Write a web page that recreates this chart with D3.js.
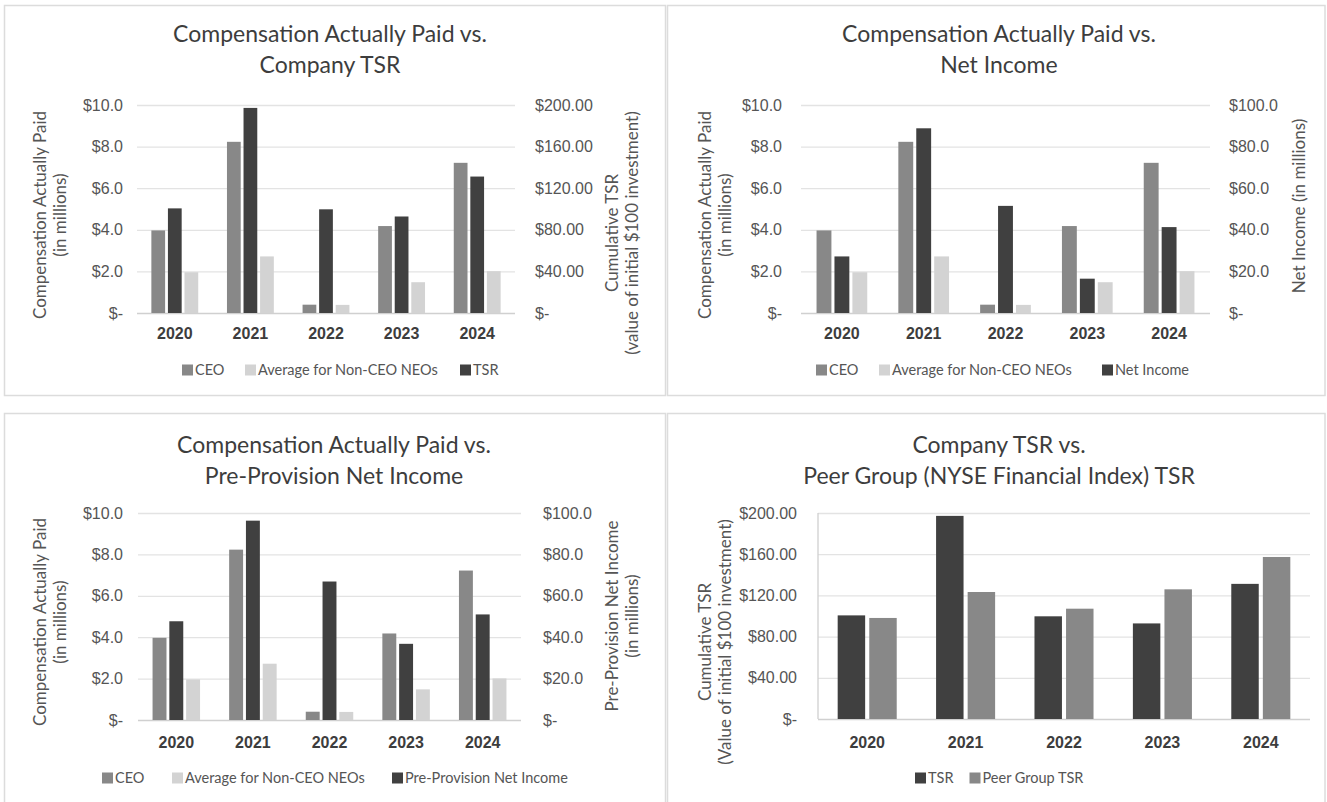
<!DOCTYPE html>
<html>
<head>
<meta charset="utf-8">
<script src="https://cdn.jsdelivr.net/npm/d3@7"></script>
<style>
  body { margin: 0; background: #fff; }
  svg { display: block; font-family: Lato, "Liberation Sans", sans-serif; }
</style>
</head>
<body>
<div id="app"></div>
<script>
// ---- data ----
const years      = ["2020", "2021", "2022", "2023", "2024"];
const ceoCap     = [3.97, 8.23, 0.40, 4.18, 7.22];     // $ millions
const neoCap     = [1.96, 2.72, 0.39, 1.48, 2.01];     // $ millions
const tsr        = [100.6, 197.2, 99.7, 92.8, 131.2];  // value of $100
const peerTsr    = [98.1, 123.3, 107.1, 125.9, 157.3];
const netIncome  = [27.2, 88.8, 51.5, 16.5, 41.3];     // $ millions
const ppni       = [47.7, 96.3, 66.9, 36.8, 51.0];     // $ millions
const capTicks   = [0, 2, 4, 6, 8, 10];
const tsrTicks   = [0, 40, 80, 120, 160, 200];
const incTicks   = [0, 20, 40, 60, 80, 100];

const C_CEO = "#888888", C_NEO = "#d3d3d3", C_DARK = "#404040";

const fmtCap = (d) => d === 0 ? "$-" : "$" + d.toFixed(1);
const fmtTsr = (d) => d === 0 ? "$-" : "$" + d.toFixed(2);

const W = 1327, H = 802;
const svg = d3.select("#app").append("svg").attr("width", W).attr("height", H);

const panels = [
  { box: [4.5, 5.5, 661, 390], title: ["Compensation Actually Paid vs.", "Company TSR"], tx: 330, ty: 34,
    px: [137, 515], py: [105, 313], lpad: 14, rpad: 20,
    left: { ticks: capTicks, fmt: fmtCap, max: 10, title: ["Compensation Actually Paid", "(in millions)"], x: 40, cy: 215 },
    right: { ticks: tsrTicks, fmt: fmtTsr, max: 200, title: ["Cumulative TSR", "(value of initial $100 investment)"], x: 612, cy: 233 },
    series: [
      { name: "CEO", vals: ceoCap, color: C_CEO, axis: "left" },
      { name: "TSR", vals: tsr, color: C_DARK, axis: "right" },
      { name: "Average for Non-CEO NEOs", vals: neoCap, color: C_NEO, axis: "left" }
    ],
    legend: [["CEO", C_CEO, 182], ["Average for Non-CEO NEOs", C_NEO, 245], ["TSR", C_DARK, 460]], ly: 370, yy: 333,
    group: 0.62 },
  { box: [667.5, 5.5, 657.5, 390], title: ["Compensation Actually Paid vs.", "Net Income"], tx: 999, ty: 34,
    px: [801, 1210], py: [105, 313], lpad: 19, rpad: 19,
    left: { ticks: capTicks, fmt: fmtCap, max: 10, title: ["Compensation Actually Paid", "(in millions)"], x: 705, cy: 215 },
    right: { ticks: incTicks, fmt: fmtCap, max: 100, title: ["Net Income (in millions)"], x: 1299, cy: 206 },
    series: [
      { name: "CEO", vals: ceoCap, color: C_CEO, axis: "left" },
      { name: "Net Income", vals: netIncome, color: C_DARK, axis: "right" },
      { name: "Average for Non-CEO NEOs", vals: neoCap, color: C_NEO, axis: "left" }
    ],
    legend: [["CEO", C_CEO, 816], ["Average for Non-CEO NEOs", C_NEO, 879], ["Net Income", C_DARK, 1102]], ly: 370, yy: 333,
    group: 0.62 },
  { box: [4.5, 413.5, 661, 400], title: ["Compensation Actually Paid vs.", "Pre-Provision Net Income"], tx: 334, ty: 445,
    px: [138, 521], py: [513, 720], lpad: 15, rpad: 22,
    left: { ticks: capTicks, fmt: fmtCap, max: 10, title: ["Compensation Actually Paid", "(in millions)"], x: 40, cy: 622 },
    right: { ticks: incTicks, fmt: fmtCap, max: 100, title: ["Pre-Provision Net Income", "(in millions)"], x: 612, cy: 616 },
    series: [
      { name: "CEO", vals: ceoCap, color: C_CEO, axis: "left" },
      { name: "Pre-Provision Net Income", vals: ppni, color: C_DARK, axis: "right" },
      { name: "Average for Non-CEO NEOs", vals: neoCap, color: C_NEO, axis: "left" }
    ],
    legend: [["CEO", C_CEO, 102], ["Average for Non-CEO NEOs", C_NEO, 172], ["Pre-Provision Net Income", C_DARK, 392]], ly: 778, yy: 742,
    group: 0.62 },
  { box: [667.5, 413.5, 657.5, 400], title: ["Company TSR vs.", "Peer Group (NYSE Financial Index) TSR"], tx: 999, ty: 445,
    px: [818, 1310], py: [513, 719], lpad: 21, rpad: 0, axisLine: true,
    left: { ticks: tsrTicks, fmt: fmtTsr, max: 200, title: ["Cumulative TSR", "(Value of initial $100 investment)"], x: 705, cy: 642 },
    right: null,
    series: [
      { name: "TSR", vals: tsr, color: C_DARK, axis: "left" },
      { name: "Peer Group TSR", vals: peerTsr, color: C_CEO, axis: "left" }
    ],
    legend: [["TSR", C_DARK, 915], ["Peer Group TSR", C_CEO, 969.5]], ly: 778, yy: 742,
    group: 0.60 }
];

panels.forEach(drawPanel);

function drawPanel(p) {
  const g = svg.append("g");

  g.append("rect")
    .attr("x", p.box[0]).attr("y", p.box[1])
    .attr("width", p.box[2]).attr("height", p.box[3])
    .attr("fill", "#fff").attr("stroke", "#dcdcdc").attr("stroke-width", 1.5);

  // title, two lines
  g.selectAll(".ttl").data(p.title).enter().append("text")
    .attr("x", p.tx).attr("y", (d, i) => p.ty + i * 31)
    .attr("dy", "0.35em")
    .attr("text-anchor", "middle")
    .style("font-size", "23px").style("fill", "#3d3d3d")
    .text((d) => d);

  const yL = d3.scaleLinear().domain([0, p.left.max]).range([p.py[1], p.py[0]]);
  const yR = p.right ? d3.scaleLinear().domain([0, p.right.max]).range([p.py[1], p.py[0]]) : null;

  const x0 = d3.scaleBand().domain(years).range(p.px)
    .paddingInner(1 - p.group).paddingOuter((1 - p.group) / 2);
  const x1 = d3.scaleBand().domain(p.series.map((s) => s.name))
    .range([0, x0.bandwidth()]).paddingInner(p.series.length > 2 ? 0.17 : 0.13);

  // gridlines + left ticks
  const gl = g.append("g").attr("transform", "translate(" + p.px[0] + ",0)")
    .call(d3.axisLeft(yL).tickValues(p.left.ticks).tickFormat(p.left.fmt)
      .tickSize(-(p.px[1] - p.px[0])).tickPadding(p.lpad));
  gl.select(".domain").remove();
  gl.selectAll(".tick line").attr("stroke", (d) => d === 0 ? "#d0d0d0" : "#e3e3e3").attr("stroke-width", 1.3);
  gl.selectAll(".tick text").style("font-size", "16px").style("fill", "#555");

  if (p.axisLine) {
    g.append("line")
      .attr("x1", p.px[0]).attr("x2", p.px[0])
      .attr("y1", yL(p.left.max)).attr("y2", yL(0))
      .attr("stroke", "#d0d0d0").attr("stroke-width", 1.3);
  }

  if (yR) {
    const gr = g.append("g").attr("transform", "translate(" + p.px[1] + ",0)")
      .call(d3.axisRight(yR).tickValues(p.right.ticks).tickFormat(p.right.fmt)
        .tickSize(0).tickPadding(p.rpad));
    gr.select(".domain").remove();
    gr.selectAll(".tick text").style("font-size", "16px").style("fill", "#555");
  }

  // year labels
  const gx = g.append("g").attr("transform", "translate(0," + p.py[1] + ")")
    .call(d3.axisBottom(x0).tickSize(0).tickPadding(0));
  gx.select(".domain").remove();
  gx.selectAll(".tick text")
    .attr("y", p.yy - p.py[1]).attr("dy", "0.35em")
    .style("font-size", "16px").style("font-weight", "bold").style("fill", "#3d3d3d");

  // bars
  p.series.forEach((s) => {
    const sc = s.axis === "right" ? yR : yL;
    g.append("g").selectAll("rect")
      .data(years.map((yr, i) => ({ yr: yr, v: s.vals[i] })))
      .enter().append("rect")
        .attr("x", (d) => x0(d.yr) + x1(s.name))
        .attr("width", x1.bandwidth())
        .attr("y", (d) => sc(d.v))
        .attr("height", (d) => sc(0) - sc(d.v))
        .attr("fill", s.color);
  });

  // axis titles (rotated)
  [p.left, p.right].forEach((a) => {
    if (!a) return;
    g.selectAll(null).data(a.title).enter().append("text")
      .attr("transform", (d, i) => "translate(" + (a.x + i * 20) + "," + a.cy + ") rotate(-90)")
      .attr("text-anchor", "middle").attr("dy", "0.35em")
      .style("font-size", "17px").style("fill", "#555")
      .text((d) => d);
  });

  // legend
  const lg = g.append("g");
  p.legend.forEach((it) => {
    lg.append("rect").attr("x", it[2]).attr("y", p.ly - 5.5).attr("width", 11).attr("height", 11).attr("fill", it[1]);
    lg.append("text").attr("x", it[2] + 13).attr("y", p.ly).attr("dy", "0.35em")
      .style("font-size", "14.5px").style("fill", "#555").text(it[0]);
  });
}
</script>
</body>
</html>
